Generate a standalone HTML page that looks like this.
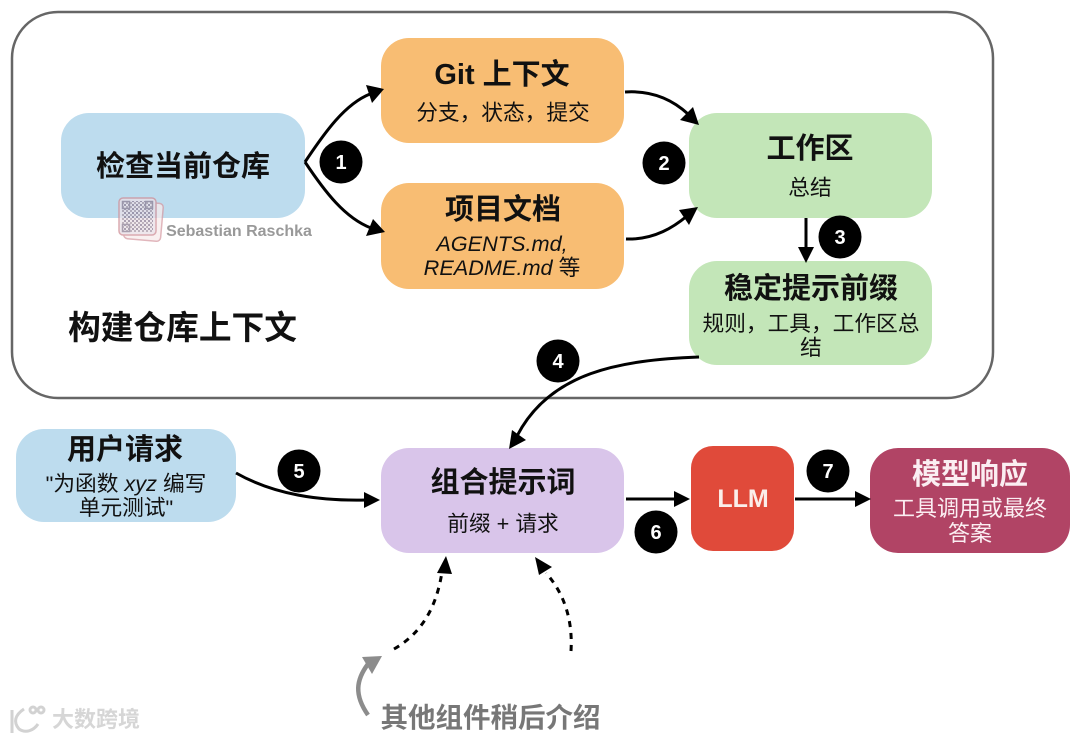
<!DOCTYPE html>
<html><head><meta charset="utf-8"><style>
html,body{margin:0;padding:0;background:#fff}
svg{display:block}
text{font-family:"Liberation Sans","Noto Sans CJK SC",sans-serif;text-anchor:middle;fill:#111}
.t{font-size:29px;font-weight:700}
.s{font-size:21.7px}
.n{font-size:20px;font-weight:700;fill:#fff}
.c{fill:none;stroke:#000;stroke-width:3}
.d{fill:none;stroke:#000;stroke-width:3;stroke-dasharray:6 6}
</style></head><body>
<svg width="1080" height="739" viewBox="0 0 1080 739" xmlns="http://www.w3.org/2000/svg">
<defs>
<pattern id="qr" width="4" height="4" patternUnits="userSpaceOnUse"><rect width="2" height="2" fill="#8f8098"/><rect x="2" y="2" width="2" height="2" fill="#a99aa8"/></pattern>
</defs>
<rect x="12" y="12" width="981" height="386" rx="46" fill="#fff" stroke="#666" stroke-width="2.5"/>
<rect x="61" y="113" width="244" height="105" rx="28" fill="#bddcee"/>
<rect x="381" y="38" width="243" height="105" rx="28" fill="#f8bd73"/>
<rect x="381" y="183" width="243" height="106" rx="28" fill="#f8bd73"/>
<rect x="689" y="113" width="243" height="105" rx="28" fill="#c3e6b8"/>
<rect x="689" y="261" width="243" height="104" rx="28" fill="#c3e6b8"/>
<rect x="16" y="429" width="220" height="93" rx="28" fill="#bddcee"/>
<rect x="381" y="448" width="243" height="105" rx="28" fill="#d9c5ea"/>
<rect x="691" y="446" width="103" height="105" rx="22" fill="#e04a3a"/>
<rect x="870" y="448" width="200" height="105" rx="28" fill="#b14465"/>

<path class="c" d="M305 162C325 132 345 104 370 94"/><path d="M384 89L366 85L372 103Z"/>
<path class="c" d="M305 162C325 192 345 218 371 228"/><path d="M385 232L373 219L366 236Z"/>
<path class="c" d="M625 92C655 90 675 102 688 114"/><path d="M699 125L693 107L680 120Z"/>
<path class="c" d="M626 239C655 240 675 226 687 216"/><path d="M698 207L679 210L689 225Z"/>
<path class="c" d="M806 218V250"/><path d="M806 263L798 247H814Z"/>
<path class="c" d="M699 357C620 360 550 372 517 436"/><path d="M509 449L526 440L512 430Z"/>
<path class="c" d="M236 473C275 495 320 501 366 500"/><path d="M380 500L364 492V508Z"/>
<path class="c" d="M626 499H676"/><path d="M690 499L674 491V507Z"/>
<path class="c" d="M795 499H857"/><path d="M871 499L855 491V507Z"/>
<path class="d" d="M394 649C420 634 436 610 442 572"/><path d="M446 556L437 573L452 574Z"/>
<path class="d" d="M571 651C573 618 563 592 546 573"/><path d="M535 557L539 575L552 567Z"/>
<path d="M368 715C354 695 356 680 368 664" fill="none" stroke="#8c8c8c" stroke-width="4.5"/>
<path d="M382 656L362 657L372 674Z" fill="#8c8c8c"/>

<g><circle cx="341" cy="162" r="21.5"/><circle cx="664" cy="163" r="21.5"/><circle cx="840" cy="237" r="21.5"/><circle cx="558" cy="361" r="21.5"/><circle cx="299" cy="471" r="21.5"/><circle cx="656" cy="532" r="21.5"/><circle cx="828" cy="471" r="21.5"/></g>
<text class="n" x="341" y="169">1</text><text class="n" x="664" y="170">2</text><text class="n" x="840" y="244">3</text><text class="n" x="558" y="368">4</text><text class="n" x="299" y="478">5</text><text class="n" x="656" y="539">6</text><text class="n" x="828" y="478">7</text>

<text class="t" x="183" y="176">检查当前仓库</text>
<text class="t" x="502" y="84">Git 上下文</text>
<text class="s" x="503" y="120">分支，状态，提交</text>
<text class="t" x="503" y="219">项目文档</text>
<text class="s" x="502" y="251" font-style="italic">AGENTS.md,</text>
<text class="s" x="502" y="275"><tspan font-style="italic">README.md</tspan> 等</text>
<text class="t" x="810" y="158">工作区</text>
<text class="s" x="810" y="195">总结</text>
<text class="t" x="811" y="298">稳定提示前缀</text>
<text class="s" x="811" y="331">规则，工具，工作区总</text>
<text class="s" x="811" y="355">结</text>
<text x="182.500" y="339" style="font-size:32.700px;font-weight:700">构建仓库上下文</text>
<text class="t" x="125" y="459">用户请求</text>
<text class="s" x="126" y="491">"为函数 <tspan font-style="italic">xyz</tspan> 编写</text>
<text class="s" x="126" y="515">单元测试"</text>
<text class="t" x="503" y="492">组合提示词</text>
<text class="s" x="503" y="531">前缀 + 请求</text>
<text x="743" y="507" style="font-size:25px;font-weight:700;fill:#fbeeea">LLM</text>
<text class="t" x="970" y="484" style="fill:#fbeef2">模型响应</text>
<text class="s" x="970" y="516" style="fill:#fbeef2;font-size:22px">工具调用或最终</text>
<text class="s" x="970" y="541" style="fill:#fbeef2;font-size:22px">答案</text>
<text x="490.500" y="727" style="font-size:27.500px;font-weight:700;fill:#777">其他组件稍后介绍</text>

<g opacity=".75">
<rect x="125" y="202" width="37" height="38" rx="4" fill="#f7ebec" stroke="#d79ea6" stroke-width="1.500" transform="rotate(5 143 221)"/>
<rect x="119" y="198" width="37" height="37" rx="4" fill="#e9dfe6" stroke="#cf8f98" stroke-width="1.500"/>
<rect x="122" y="201" width="31" height="31" fill="url(#qr)"/>
<g fill="none" stroke="#8d7f95" stroke-width="1.500"><rect x="122.500" y="201.500" width="7" height="7"/><rect x="145.500" y="201.500" width="7" height="7"/><rect x="122.500" y="224.500" width="7" height="7"/></g>
</g>
<text x="239" y="236" style="font-size:16px;font-weight:700;fill:#999">Sebastian Raschka</text>
<g fill="none" stroke="#d2d2d2" stroke-width="3">
<path d="M12 710V733"/><path d="M24 709C15 715 13 722 19 729C26 734 34 730 38 724"/><circle cx="33" cy="710" r="3"/><circle cx="41" cy="710" r="3"/>
</g>
<text x="96" y="727" style="font-size:22px;font-weight:700;fill:#d6d6d6">大数跨境</text>
</svg>
</body></html>
